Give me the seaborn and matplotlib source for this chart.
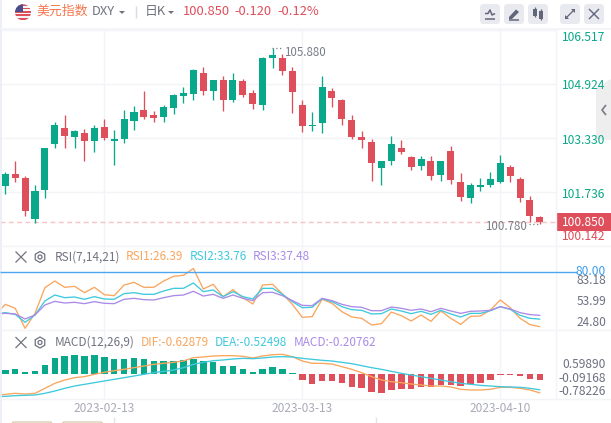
import numpy as np
import pandas as pd
import matplotlib
matplotlib.use("Agg")
import matplotlib.pyplot as plt
from matplotlib.patches import Circle, Rectangle, FancyBboxPatch, Polygon
import seaborn as sns

# ---------- data ----------
opens = [101.91,102.27,102.15,100.94,101.79,103.15,103.62,103.36,103.48,103.24,103.65,103.24,103.30,103.83,104.15,
         104.01,103.95,104.21,104.57,104.63,105.25,104.71,105.04,104.45,105.01,104.66,104.30,105.69,105.69,105.30,
         104.30,103.68,103.77,104.71,104.45,103.86,103.36,103.21,102.44,102.65,103.03,102.77,102.50,102.65,102.24,
         102.94,102.03,101.56,101.88,101.94,102.03,102.47,102.12,101.50,101.00]
closes = [102.27,102.15,101.17,101.76,103.03,103.71,103.38,103.53,103.24,103.62,103.33,103.30,103.89,104.09,103.95,
          103.92,104.24,104.60,104.66,105.33,104.71,105.04,104.45,105.04,104.60,104.33,105.69,105.78,105.30,104.68,
          103.68,103.71,104.83,104.51,103.89,103.36,103.27,102.59,102.65,103.15,102.91,102.47,102.71,102.21,102.65,
          102.09,101.59,101.94,101.94,102.12,102.59,102.21,101.56,101.03,100.85]
highs = [102.33,102.65,102.21,101.94,103.03,103.80,104.00,103.56,103.59,103.71,103.89,103.56,104.15,104.27,104.71,
         104.12,104.30,104.63,104.83,105.36,105.42,105.04,105.16,105.25,105.07,104.74,105.72,105.98,105.80,105.42,
         104.45,104.09,105.16,104.80,104.48,104.01,103.53,103.30,102.65,103.39,103.27,102.80,102.80,102.80,102.65,
         103.09,102.30,102.00,102.15,102.33,102.83,102.53,102.18,101.62,101.03]
lows = [101.67,102.03,101.03,100.82,101.56,103.03,103.03,103.03,102.65,102.91,103.27,102.53,103.18,103.56,103.89,
        103.80,103.80,104.03,104.36,104.45,104.60,104.45,104.12,104.39,104.54,104.18,104.15,105.39,105.19,104.07,
        103.51,103.53,103.48,104.24,103.71,103.30,103.03,102.06,101.94,102.53,102.86,102.38,102.38,102.09,102.06,
        101.97,101.47,101.41,101.76,101.88,102.00,102.03,101.44,100.85,100.78]

# the first value of each line is the bar just left of the visible window
rsi1 = [37.8,48.2,44.3,24.8,39.4,64.4,70.95,64.8,65.75,59.6,64.8,57.6,56.65,67.05,69.65,64.8,64.8,70.95,75.5,76.5,83.18,
        63.15,67.7,55.7,62.5,54.7,48.5,67.05,67.7,58.3,48.2,35.5,36.2,53.1,49.2,41.05,35.85,34.55,28.05,29.35,40.7,
        37.15,31.95,37.8,31.6,41.7,34.55,28.7,36.5,36.8,42.7,52.4,44.95,34.55,28.4,26.39]
rsi2 = [38.8,40.1,38.45,30.65,37.8,51.45,57.3,54.7,55.35,53.1,55.7,53.4,53.1,58.6,59.6,57.95,57.95,61.2,63.8,63.8,69.0,
        60.55,62.2,55.7,60.55,55.7,53.4,63.8,63.8,57.95,50.8,44.95,45.3,53.7,50.8,45.9,43.0,42.35,38.8,39.1,43.65,
        41.7,39.1,41.4,38.45,42.35,38.8,35.85,39.4,39.4,42.0,45.9,43.3,37.5,34.55,33.76]
rsi3 = [38.8,39.4,38.8,33.9,37.8,47.55,51.1,49.5,50.15,48.85,50.8,49.2,48.85,53.1,54.05,52.75,52.4,54.7,56.65,57.3,60.9,
        56.3,57.95,54.05,57.3,54.05,51.8,59.6,59.9,56.65,51.8,47.2,46.9,54.05,51.8,48.2,45.9,45.3,42.0,42.0,45.6,
        44.3,42.35,43.65,41.05,44.3,41.7,39.4,41.4,41.7,42.35,45.9,43.65,40.1,38.15,37.48]
dif = [-.72,-.678,-.644,-.667,-.644,-.478,-.311,-.20,-.122,-.089,-.011,.056,.111,.156,.211,.267,.322,.356,.389,.433,.544,
       .567,.60,.611,.611,.589,.533,.60,.644,.656,.578,.433,.356,.356,.333,.244,.156,.044,-.089,-.20,-.256,
       -.289,-.333,-.367,-.40,-.40,-.433,-.511,-.533,-.533,-.511,-.444,-.444,-.478,-.533,-.62879]
dea = [-.756,-.744,-.722,-.711,-.70,-.644,-.567,-.478,-.40,-.344,-.289,-.233,-.178,-.122,-.067,-.011,.044,.089,.133,.211,.322,
       .389,.444,.467,.50,.522,.511,.533,.567,.578,.567,.522,.489,.456,.433,.389,.344,.278,.211,.156,.089,
       .022,-.033,-.089,-.144,-.20,-.256,-.311,-.344,-.378,-.40,-.422,-.433,-.444,-.478,-.52498]
macd = [.133,.167,.067,.10,.30,.533,.60,.633,.60,.633,.567,.50,.50,.533,.50,.433,.433,.433,.467,.50,.433,.40,.267,.267,.167,
        .067,.167,.233,.167,.022,-.20,-.333,-.233,-.233,-.30,-.433,-.467,-.60,-.622,-.533,-.50,-.50,-.433,-.433,-.367,
        -.367,-.40,-.333,-.30,-.20,-.033,-.033,-.067,-.167,-.20762]

price_ticks = [106.517, 104.924, 103.330, 101.736, 100.142]
date_positions = [10, 30, 50]
date_labels = ["2023-02-13", "2023-03-13", "2023-04-10"]
rsi_guide = 80.0
last_price = 100.850

# ---------- style ----------
W, H = 611, 423
GREEN, RED = "#0aa88a", "#df4e5b"
ORANGE, CYAN, PURPLE = "#f9a65e", "#3ec9dd", "#a98be8"
GRID = "#f3f4f8"
GREY, AXGREY, DATEGREY = "#70737f", "#6d7080", "#a9abb8"

sns.set_theme(style="white")
plt.rcParams["font.family"] = ["Noto Sans CJK SC", "DejaVu Sans"]

fig = plt.figure(figsize=(W / 100, H / 100), dpi=100, facecolor="white")

def panel(top, bottom, right=556):
    ax = fig.add_axes([0, 1 - bottom / H, right / W, (bottom - top) / H])
    for s in ax.spines.values():
        s.set_visible(False)
    ax.set_xlim(-0.535, 55.63)
    ax.tick_params(length=0, labelbottom=False, labelleft=False)
    ax.set_xticks(date_positions)
    ax.grid(True, axis="x", color=GRID, lw=1)
    ax.set_axisbelow(True)
    ax.set_xlabel("")
    ax.set_ylabel("")
    return ax

n = len(opens)
idx = np.arange(n)
line_idx = np.arange(-1, n)

# ---------- candlesticks ----------
ax_p = panel(29, 246)
ax_p.set_ylim(100.142, 106.54)
ax_p.set_yticks(price_ticks)
ax_p.grid(True, axis="y", color=GRID, lw=1)
o, c, hi, lo = map(np.array, (opens, closes, highs, lows))
colors = np.where(c >= o, GREEN, RED)
ax_p.vlines(idx, lo, hi, colors=colors, lw=0.95, zorder=3)
ax_p.bar(idx, np.abs(c - o), bottom=np.minimum(o, c), width=0.71, color=colors, zorder=4, linewidth=0)
ax_p.axhline(last_price, color="#f7c3c3", lw=1, dashes=(3.5, 2.5), zorder=2)

# ---------- RSI ----------
ax_r = panel(246.7, 330)
ax_r.set_ylim(23.17, 104.39)
ax_r.set_yticks([])
for vals, col in ((rsi1, ORANGE), (rsi2, CYAN), (rsi3, PURPLE)):
    sns.lineplot(x=line_idx, y=vals, color=col, lw=0.95, ax=ax_r, legend=False, errorbar=None)
ax_r.set_xlim(-0.535, 55.63)
ax_r.set_xlabel(""); ax_r.set_ylabel("")

# ---------- MACD ----------
ax_m = panel(331, 399)
ax_m.set_ylim(-0.833, 1.433)
ax_m.set_yticks([])
df = pd.DataFrame({"i": idx, "macd": macd})
df["sign"] = np.where(df["macd"] >= 0, "up", "down")
sns.barplot(data=df, x="i", y="macd", hue="sign", palette={"up": GREEN, "down": RED}, native_scale=True,
            width=0.66, dodge=False, saturation=1, legend=False, ax=ax_m, zorder=3, linewidth=0)
for vals, col in ((dif, ORANGE), (dea, CYAN)):
    sns.lineplot(x=line_idx, y=vals, color=col, lw=0.95, ax=ax_m, legend=False, errorbar=None, zorder=4)
ax_m.set_xlim(-0.535, 55.63)
ax_m.set_xticks(date_positions)
ax_m.set_xlabel(""); ax_m.set_ylabel("")
ax_m.tick_params(length=0, labelbottom=False, labelleft=False)

# ---------- page furniture, in pixel units ----------
ui = fig.add_axes([0, 0, 1, 1], facecolor="none", zorder=10)
ui.set_xlim(0, W); ui.set_ylim(H, 0); ui.axis("off")

def T(x, y, s, color=GREY, size=8.6, ha="left", **kw):
    return ui.text(x, y, s, color=color, fontsize=size, ha=ha, va="center", **kw)

def L(xs, ys, color=GRID, lw=1.0, **kw):
    ui.plot(xs, ys, color=color, lw=lw, solid_capstyle="butt", **kw)

# frame lines
L([0.5, 0.5], [0, H], "#e9ecf5", 1.2)
L([0, W], [29, 29], GRID, 1.2)
L([0, W], [246.5, 246.5], GRID)
L([0, W], [330.5, 330.5], GRID)
L([0, W], [399.5, 399.5], GRID)
L([556, 556], [29, 399], GRID)

# flag
cx, cy, r = 23, 12.3, 8
clip = Circle((cx, cy), r, transform=ui.transData)
ui.add_patch(Circle((cx, cy), r, fc="#f4f4f6", ec="none"))
for k in range(5):
    p = Rectangle((cx - r, cy - r + k * 3.4), 2 * r, 1.7, fc="#df4e5b", ec="none")
    ui.add_patch(p); p.set_clip_path(clip)
p = Rectangle((cx - r, cy - r), r, r * 0.95, fc="#4a4f8c", ec="none")
ui.add_patch(p); p.set_clip_path(clip)

# header
T(36, 11.5, "美元指数", "#f5774e", 9.3)
T(91.5, 11.5, "DXY", GREY, 9.3)
ui.add_patch(Polygon([[119, 11], [125, 11], [122, 14]], fc=GREY, ec="none"))
L([135.5, 135.5], [6, 18], "#d9dbe2")
T(145, 11.5, "日K", GREY, 9.3)
ui.add_patch(Polygon([[168, 11], [174, 11], [171, 14]], fc=GREY, ec="none"))
T(182.5, 11.5, "100.850", RED, 9.3, fontweight="medium")
T(234.5, 11.5, "-0.120", RED, 9.3, fontweight="medium")
T(277, 11.5, "-0.12%", RED, 9.3, fontweight="medium")

# toolbar
for x0 in (480, 504, 528, 560, 584):
    ui.add_patch(FancyBboxPatch((x0 + 2, 6), 16, 16, boxstyle="round,pad=2,rounding_size=3.5", fc="#e8eaf0", ec="none"))
IC = "#62667a"
L([485, 495], [19, 19], IC, 1.1)
L([485, 488, 490, 492, 495], [13.5, 13.5, 10, 15, 13.5], IC, 1.1)
ui.add_patch(Polygon([[509, 17], [516, 9.5], [519, 12], [512, 19], [509, 19]], fc=IC, ec="none"))
L([509, 519], [20.5, 20.5], IC, 1.1)
for x0, t0, b0 in ((535, 9, 16), (541, 11, 19)):
    L([x0, x0], [t0 - 1.5, b0 + 1.5], IC, 0.9)
    ui.add_patch(Rectangle((x0 - 2, t0), 4, b0 - t0, fc=IC, ec="none"))
L([566, 574], [18, 10], IC, 0.9)
ui.add_patch(Polygon([[571, 9], [575, 9], [575, 13]], fc=IC, ec="none"))
ui.add_patch(Polygon([[565, 15], [565, 19], [569, 19]], fc=IC, ec="none"))
L([589, 599], [9, 19], IC, 1.0)
L([589, 599], [19, 9], IC, 1.0)

# side tab
ui.add_patch(Polygon([[611, 79], [611, 140], [596, 140], [596, 88]], fc="#eeeeef", ec="none"))
L([606, 602, 606], [105, 110, 115], "#777a86", 1.2)

# price axis labels
for y, s in zip((37.7, 85.7, 140, 195), ("106.517", "104.924", "103.330", "101.736")):
    T(562, y, s, GREEN, 8.7)
ui.add_patch(Rectangle((556, 213), 55, 18, fc=RED, ec="none"))
T(562, 222, "100.850", "white", 8.7)
T(562, 237, "100.142", RED, 8.7)

# high / low notes
T(284, 52, "105.880", "#7a7d8a", 8.3)
L([272, 282], [48.5, 48.5], "#7a7d8a", 0.9, linestyle=(0, (1, 2)))
T(485, 227, "100.780", "#7a7d8a", 8.3)
L([529, 540], [224, 224], "#7a7d8a", 0.9, linestyle=(0, (1, 2)))

# RSI guide and labels
L([0, 577], [271.7, 271.7], "#4da6f0", 1.0)
T(606, 271.5, "80.00", "#3d9bec", 8.6, ha="right")
T(606, 280, "83.18", AXGREY, 8.6, ha="right")
T(606, 301.7, "53.99", AXGREY, 8.6, ha="right")
T(606, 322.7, "24.80", AXGREY, 8.6, ha="right")

# MACD axis labels
T(606, 364.5, "0.59890", AXGREY, 8.6, ha="right")
T(606, 378, "-0.09168", AXGREY, 8.6, ha="right")
T(606, 391.5, "-0.78226", AXGREY, 8.6, ha="right")

# panel captions
def close_and_gear(y):
    L([15.5, 26.5], [y - 5.5, y + 5.5], "#70737f", 0.9)
    L([15.5, 26.5], [y + 5.5, y - 5.5], "#70737f", 0.9)
    a = np.deg2rad(np.arange(30, 390, 60))
    ui.add_patch(Polygon(np.c_[40 + 5.5 * np.cos(a), y + 5.5 * np.sin(a)], fc="none", ec="#70737f", lw=0.9))
    ui.add_patch(Circle((40, y), 2, fc="none", ec="#70737f", lw=0.9))

close_and_gear(257)
T(54.5, 257, "RSI(7,14,21)", GREY, 8.5)
T(126, 257, "RSI1:26.39", ORANGE, 8.5)
T(190, 257, "RSI2:33.76", CYAN, 8.5)
T(253, 257, "RSI3:37.48", PURPLE, 8.5)

close_and_gear(342.5)
T(54.5, 342.5, "MACD(12,26,9)", GREY, 8.5)
T(141, 342.5, "DIF:-0.62879", ORANGE, 8.5)
T(215, 342.5, "DEA:-0.52498", CYAN, 8.5)
T(294, 342.5, "MACD:-0.20762", PURPLE, 8.5)

# date labels
for i, s in zip(date_positions, date_labels):
    T(5.3 + 9.9 * i - 0.3, 408.7, s, DATEGREY, 8.6, ha="center")

# controls cut off by the bottom edge
ui.add_patch(FancyBboxPatch((12, 422), 40, 8, boxstyle="round,pad=0,rounding_size=2", fc="none", ec="#d8c9a8", lw=0.9))
ui.add_patch(FancyBboxPatch((62.5, 422), 40, 8, boxstyle="round,pad=0,rounding_size=2", fc="none", ec="#d8c9a8", lw=0.9))
L([113.5, 113.5], [417, 423], "#e3e4ea")
L([376, 376], [417, 423], "#e3e4ea")

fig.savefig("out.png", dpi=100, facecolor="white")
